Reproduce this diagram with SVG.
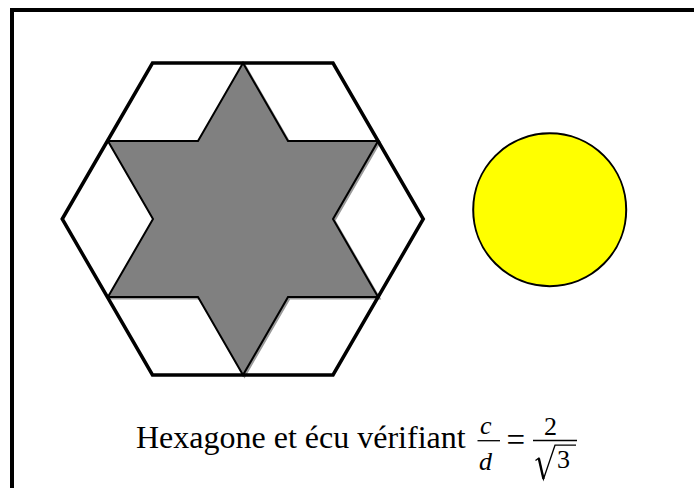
<svg xmlns="http://www.w3.org/2000/svg" width="694" height="488" viewBox="0 0 694 488">
<defs>
<style>
text{font-family:'Liberation Serif','Times New Roman',Times,serif;fill:#000}
.it{font-style:italic}
</style>
</defs>
<rect x="0" y="0" width="694" height="488" fill="#fff"/>
<g id="frame">
<rect x="12" y="10" width="700" height="500" fill="none" stroke="#000" stroke-width="4"/>
</g>
<g id="hexagon-fill">
<polygon points="62.25,219 152.5,63 333,63 423.25,219 333,375 152.5,375" fill="#fff"/>
</g>
<g id="star">
<polygon transform="translate(1.5,1.5)" points="243,63 288,141 378.1,141 333,219 378.1,297 288,297 243,375 198,297 107.9,297 153,219 107.9,141 198,141" fill="#808080" stroke="#9a9a9a" stroke-width="2"/>
<polygon points="243,63 288,141 378.1,141 333,219 378.1,297 288,297 243,375 198,297 107.9,297 153,219 107.9,141 198,141" fill="#808080" stroke="#000" stroke-width="2" stroke-linejoin="miter"/>
</g>
<g id="hexagon">
<polygon points="62.25,219 152.5,63 333,63 423.25,219 333,375 152.5,375" fill="none" stroke="#000" stroke-width="3.5"/>
</g>
<g id="circle">
<circle cx="549.7" cy="209.7" r="76.5" fill="#ffff00" stroke="#000" stroke-width="2"/>
</g>
<g id="caption" font-family="Liberation Serif, Times New Roman, serif">
<text x="136" y="448" font-size="32">Hexagone et écu vérifiant</text>
<text class="it" x="480" y="434" font-size="26">c</text>
<line x1="477.5" y1="440.7" x2="500" y2="440.7" stroke="#000" stroke-width="1.3"/>
<text class="it" x="479" y="470" font-size="26">d</text>
<text x="506.5" y="451" font-size="33">=</text>
<text x="544" y="435" font-size="26">2</text>
<line x1="533" y1="440.5" x2="577" y2="440.5" stroke="#000" stroke-width="1.3"/>
<path d="M535.5,460.5 L538.8,458.2 L543.5,479 L555,445.2 H576" fill="none" stroke="#000" stroke-width="1.3" stroke-linejoin="miter"/>
<path d="M538.8,458.2 L543.5,479" fill="none" stroke="#000" stroke-width="2.4"/>
<text x="557" y="467.7" font-size="26">3</text>
</g>
</svg>
